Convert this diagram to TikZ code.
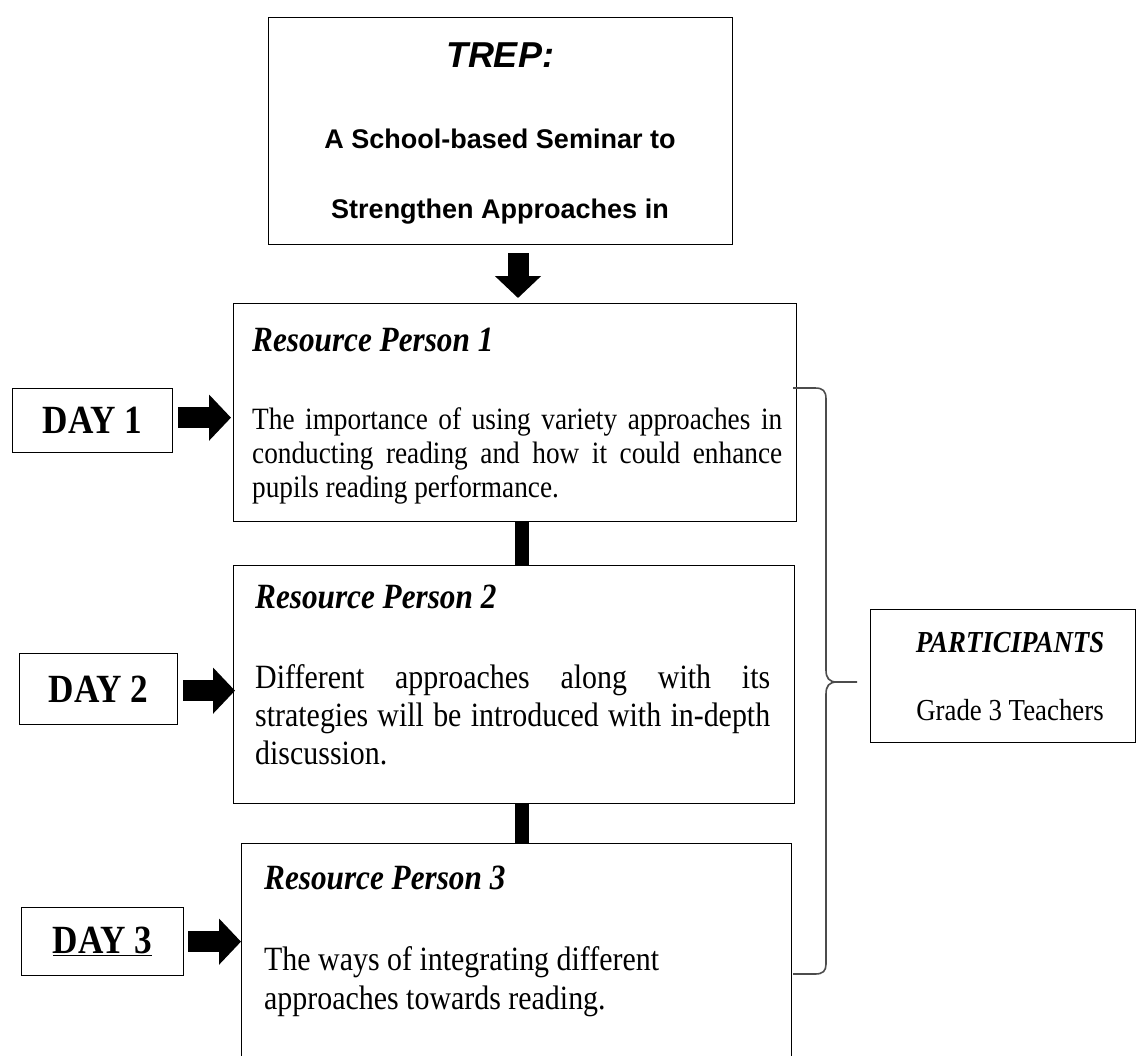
\documentclass[tikz,border=0pt]{standalone}
\usepackage{fontspec}
\setmainfont{Liberation Serif}
\newfontfamily\rfont[FakeStretch=0.88]{Liberation Serif}
\newfontfamily\afont{Liberation Sans}
\usetikzlibrary{arrows.meta,calc}
\tikzset{
  frame/.style={draw, line width=1.3pt, inner sep=0pt, anchor=north west},
  daybox/.style={draw, line width=1.3pt, inner sep=0pt,
    font=\rfont\bfseries\fontsize{40}{44}\selectfont},
  blk/.style={line width=21pt, -{Triangle[length=22pt,width=45pt]}},
  bar/.style={line width=14pt},
  brace/.style={draw=black!70, line width=1.6pt},
  head/.style={anchor=base west, inner sep=0pt, font=\rfont\bfseries\itshape\fontsize{35.5}{40}\selectfont},
  bodyA/.style={anchor=base west, inner sep=0pt, font=\rfont\fontsize{31}{34}\selectfont},
  bodyB/.style={anchor=base west, inner sep=0pt, font=\rfont\fontsize{34}{38}\selectfont},
  sans/.style={anchor=base, inner sep=0pt, font=\afont\bfseries\fontsize{27}{30}\selectfont}
}
\begin{document}
\begin{tikzpicture}[x=1pt,y=-1pt]
\useasboundingbox (0,0) rectangle (1137,1055);
\clip (0,0) rectangle (1137,1055);

% top box
\node[frame, minimum width=464pt, minimum height=227pt] (top) at (268,17) {};
\node[anchor=base, inner sep=0pt, font=\afont\bfseries\itshape\fontsize{36}{40}\selectfont] (trep) at (500,67) {TREP:};
\node[sans] (t2) at (500,148) {A School-based Seminar to};
\node[sans] (t3) at (500,218) {Strengthen Approaches in};

% main boxes
\node[frame, minimum width=563pt, minimum height=218pt] (box1) at (233,303) {};
\node[frame, minimum width=561pt, minimum height=238pt] (box2) at (233,565) {};
\node[frame, minimum width=550pt, minimum height=250pt] (box3) at (241,843) {};

% box 1 text
\node[head] (h1) at (252,351) {Resource Person 1};
\node[bodyA] (b1a) at (252,429) {\makebox[530pt][s]{The importance of using variety approaches in}};
\node[bodyA] (b1b) at (252,463) {\makebox[530pt][s]{conducting reading and how it could enhance}};
\node[bodyA] (b1c) at (252,497) {pupils reading performance.};

% box 2 text
\node[head] (h2) at (255,608) {Resource Person 2};
\node[bodyB] (b2a) at (255,688) {\makebox[515pt][s]{Different approaches along with its}};
\node[bodyB] (b2b) at (255,726) {\makebox[515pt][s]{strategies will be introduced with in-depth}};
\node[bodyB] (b2c) at (255,764) {discussion.};

% box 3 text
\node[head] (h3) at (264,889) {Resource Person 3};
\node[bodyB] (b3a) at (264,970) {The ways of integrating different};
\node[bodyB] (b3b) at (264,1009) {approaches towards reading.};

% day boxes
\node[daybox, anchor=north west, minimum width=160pt, minimum height=64pt] (day1) at (12,388) {DAY 1};
\node[daybox, anchor=north west, minimum width=158pt, minimum height=71pt] (day2) at (19,653) {DAY 2};
\node[daybox, anchor=north west, minimum width=162pt, minimum height=68pt] (day3) at (21,907) {\underline{DAY 3}};

% participants
\node[frame, minimum width=265pt, minimum height=133pt] (part) at (870,609) {};
\node[anchor=base, inner sep=0pt, font=\rfont\bfseries\itshape\fontsize{30.5}{34}\selectfont] (pt) at (1010,652) {PARTICIPANTS};
\node[anchor=base, inner sep=0pt, font=\rfont\fontsize{30.5}{34}\selectfont] (pg) at (1010,720) {Grade 3 Teachers};

% arrows
\coordinate (ax) at (518,0);
\coordinate (bx) at (522,0);
\draw[blk] ($(top.south -| ax)+(0,8)$) -- ($(box1.north -| ax)+(0,-5)$);
\draw[blk] ($(day1.east)+(5,-3)$) -- ($(day1.east -| box1.west)+(-2,-3)$);
\draw[blk] ($(day2.east)+(5,1.5)$) -- ($(day2.east -| box2.west)+(2,1.5)$);
\draw[blk] ($(day3.east)+(4,0)$) -- ($(day3.east -| box3.west)$);

% connecting bars
\draw[bar] (box1.south -| bx) -- (box2.north -| bx);
\draw[bar] (box2.south -| bx) -- (box3.north -| bx);

% brace
\draw[brace] (793,388) -- (815,388) .. controls (823,388) and (826,391) .. (826,399)
  -- (826,670) .. controls (826,678) and (829,682) .. (837,682) -- (857,682);
\draw[brace] (837,682) .. controls (829,682) and (826,686) .. (826,694)
  -- (826,964) .. controls (826,971) and (823,974) .. (815,974) -- (793,974);
\end{tikzpicture}
\end{document}
